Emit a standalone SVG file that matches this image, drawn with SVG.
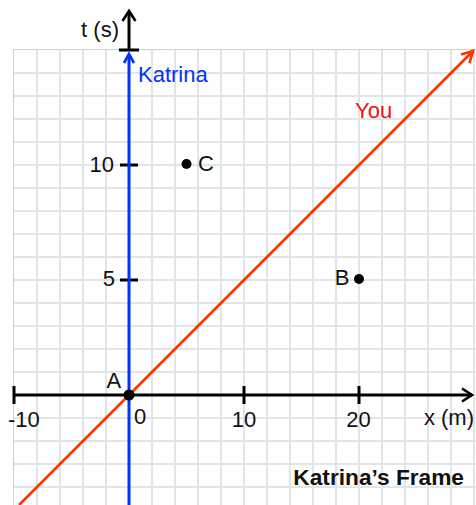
<svg xmlns="http://www.w3.org/2000/svg" width="476" height="505" viewBox="0 0 476 505">
  <style>
    .grid { stroke: #e2e5e5; stroke-width: 2; fill: none; }
    .border { stroke: #cbd6d3; stroke-width: 1; fill: none; }
    .axis { stroke: #000; stroke-width: 3; fill: none; }
    .lbl { font-family: "Liberation Sans", Arial, sans-serif; font-size: 22px; fill: #111; }
    .bold { font-weight: bold; font-size: 22.7px; }
    .dot { fill: #000; }
  </style>
  <defs>
    <marker id="arrK" markerUnits="userSpaceOnUse" markerWidth="20" markerHeight="20" viewBox="-14 -10 20 20" refX="0" refY="0" orient="auto">
      <path d="M-10,-6.5 L0,0 L-10,6.5" fill="none" stroke="#000" stroke-width="2.6" stroke-linejoin="miter"/>
    </marker>
    <marker id="arrB" markerUnits="userSpaceOnUse" markerWidth="20" markerHeight="20" viewBox="-14 -10 20 20" refX="0" refY="0" orient="auto">
      <path d="M-9,-5 L0,0 L-9,5" fill="none" stroke="#0033ff" stroke-width="2.6"/>
    </marker>
    <marker id="arrR" markerUnits="userSpaceOnUse" markerWidth="20" markerHeight="20" viewBox="-14 -10 20 20" refX="0" refY="0" orient="auto">
      <path d="M-11,-6 L0,0 L-11,6" fill="none" stroke="#ff3300" stroke-width="2.6"/>
    </marker>
  </defs>
  <rect width="476" height="505" fill="#fff"/>
  <g id="grid">
    <path class="grid" d="M37,50V505M60,50V505M83,50V505M106,50V505M129,50V505M152,50V505M175,50V505M198,50V505M221,50V505M244,50V505M267,50V505M290,50V505M313,50V505M336,50V505M359,50V505M382,50V505M405,50V505M428,50V505M451,50V505M474,50V505
      M14,73H476M14,96H476M14,119H476M14,142H476M14,165H476M14,188H476M14,211H476M14,234H476M14,257H476M14,280H476M14,303H476M14,326H476M14,349H476M14,372H476M14,395H476M14,418H476M14,441H476M14,464H476M14,487H476"/>
    <path class="border" d="M13.5,505V49.5H476"/>
  </g>
  <g id="axes">
    <path class="axis" d="M129,50V11" marker-end="url(#arrK)"/>
    <path class="axis" d="M119,50H139M120,165H138M120,280H138"/>
    <path class="axis" d="M14,395H472" marker-end="url(#arrK)"/>
    <path class="axis" d="M14,386V404M244,386V404M359,386V404"/>
    <text class="lbl" x="119" y="37" text-anchor="end">t (s)</text>
    <text class="lbl" x="474" y="425" text-anchor="end">x (m)</text>
    <text class="lbl" x="114" y="172" text-anchor="end">10</text>
    <text class="lbl" x="115" y="286" text-anchor="end">5</text>
    <text class="lbl" x="8" y="427">-10</text>
    <text class="lbl" x="134" y="424">0</text>
    <text class="lbl" x="244" y="427" text-anchor="middle">10</text>
    <text class="lbl" x="358.5" y="427" text-anchor="middle">20</text>
  </g>
  <g id="connectors">
    <path id="katrina-line" d="M129,505V54" stroke="#0033ff" stroke-width="3" fill="none" marker-end="url(#arrB)"/>
    <path id="you-line" d="M19,505L473,51" stroke="#ff3300" stroke-width="2.6" fill="none" marker-end="url(#arrR)"/>
    <text class="lbl" x="138" y="82" style="fill:#0033ff">Katrina</text>
    <text class="lbl" x="355" y="118" style="fill:#ee1111">You</text>
  </g>
  <g id="node-A">
    <circle class="dot" cx="129" cy="395" r="5.5"/>
    <text class="lbl" x="106.5" y="388">A</text>
  </g>
  <g id="node-B">
    <circle class="dot" cx="359" cy="279" r="5"/>
    <text class="lbl" x="349.5" y="285" text-anchor="end">B</text>
  </g>
  <g id="node-C">
    <circle class="dot" cx="186.5" cy="164" r="5"/>
    <text class="lbl" x="198" y="171">C</text>
  </g>
  <g id="title">
    <text class="lbl bold" x="464" y="485" text-anchor="end">Katrina’s Frame</text>
  </g>
</svg>
